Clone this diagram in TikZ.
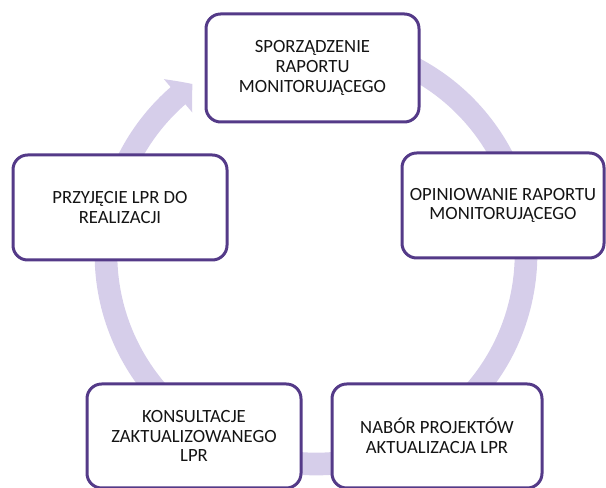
\documentclass[tikz,border=0pt]{standalone}
\usepackage{fontspec}
\setmainfont{Carlito}
\usetikzlibrary{arrows.meta,bending}
\definecolor{ringcol}{RGB}{214,206,234}
\definecolor{boxline}{RGB}{84,58,136}
\definecolor{txtcol}{RGB}{20,20,20}
\tikzset{
  stepbox/.style={draw=boxline, line width=2.25pt, rounded corners=11pt, fill=white,
    align=center, inner sep=2pt, text=txtcol,
    font=\fontsize{14pt}{14.8pt}\selectfont},
  ringline/.style={draw=ringcol, line width=17pt,
    -{Triangle[length=14pt, width=32pt, bend]}}
}
\begin{document}
\begin{tikzpicture}[x=0.75pt, y=0.75pt]
\useasboundingbox (0,0) rectangle (606,488);
\coordinate (c) at (316,234);
\draw[ringline] (c) ++(80:210) arc[start angle=80, end angle=-234, radius=210];
\node[stepbox, minimum width=159.75pt, minimum height=81pt] (top) at (312.5,420)
  {SPORZĄDZENIE\\RAPORTU\\MONITORUJĄCEGO};
\node[stepbox, minimum width=151.5pt, minimum height=78.75pt] (right) at (503,282.5)
  {OPINIOWANIE RAPORTU\\MONITORUJĄCEGO};
\node[stepbox, minimum width=160.5pt, minimum height=78.75pt] (left) at (120,280.5)
  {PRZYJĘCIE LPR DO\\REALIZACJI};
\node[stepbox, minimum width=160.5pt, minimum height=78pt] (bl) at (194,52)
  {KONSULTACJE\\ZAKTUALIZOWANEGO\\LPR};
\node[stepbox, minimum width=157.5pt, minimum height=78pt] (br) at (437,52)
  {NABÓR PROJEKTÓW\\AKTUALIZACJA LPR};
\end{tikzpicture}
\end{document}
